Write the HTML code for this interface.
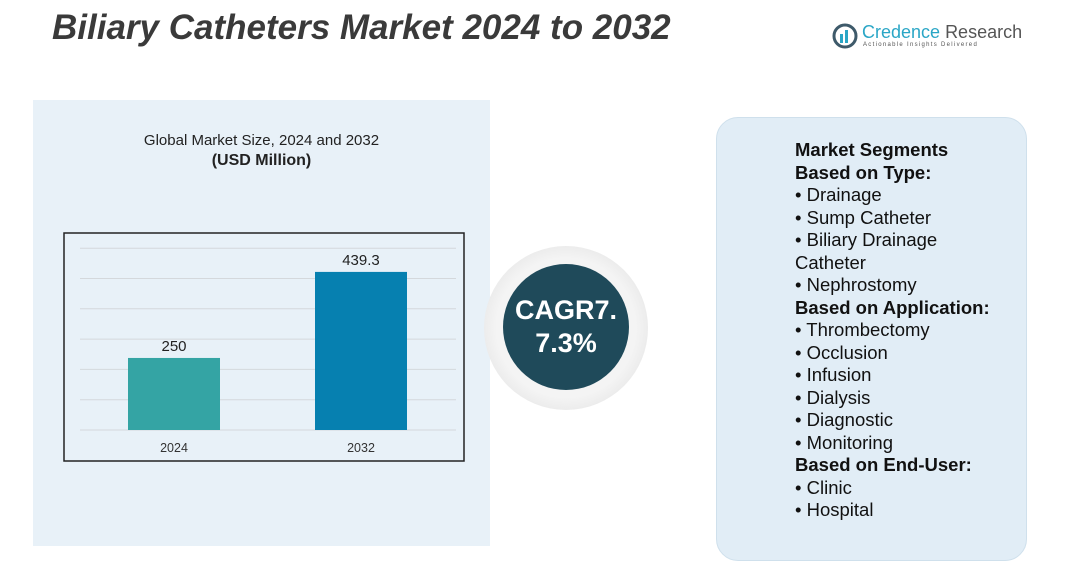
<!DOCTYPE html>
<html><head><meta charset="utf-8"><style>
body{margin:0;width:1067px;height:587px;background:#fff;font-family:"Liberation Sans",sans-serif;position:relative;overflow:hidden}
.abs{position:absolute}
</style></head><body>
<div class="abs" style="left:52px;top:8px;font-size:35px;font-weight:bold;font-style:italic;color:#3a3a3a">Biliary Catheters Market 2024 to 2032</div>
<div class="abs" style="left:832px;top:22px;width:200px;height:30px;white-space:nowrap">
 <svg width="26" height="28" style="position:absolute;left:0;top:0"><circle cx="13" cy="14" r="11" fill="none" stroke="#3e5a6a" stroke-width="3"/><rect x="8" y="12" width="3" height="9" fill="#2aa6c6"/><rect x="13" y="8" width="3" height="13" fill="#2aa6c6"/></svg>
 <div class="abs" style="left:30px;top:0;font-size:18px;color:#2aa6c6;white-space:nowrap">Credence <span style="color:#555">Research</span></div>
 <div class="abs" style="left:31px;top:20px;font-size:6px;letter-spacing:1.3px;color:#555;white-space:nowrap">Actionable Insights Delivered</div>
</div>
<div class="abs" style="left:33px;top:100px;width:457px;height:446px;background:#e8f1f8"></div>
<div class="abs" style="left:33px;top:132px;width:457px;text-align:center;font-size:15px;color:#222">Global Market Size, 2024 and 2032<br><b style="font-size:16px;line-height:24px">(USD Million)</b></div>
<svg class="abs" style="left:0;top:0" width="1067" height="587">
 <g id="g"></g>
</svg>
<div class="abs" style="left:484px;top:246px;width:164px;height:164px;border-radius:50%;background:radial-gradient(circle,#f4f4f4 60%,#d6d6d6 100%)"></div>
<div class="abs" style="left:503px;top:264px;width:126px;height:126px;border-radius:50%;background:#1f4a5a;color:#fff;font-size:27px;font-weight:bold;text-align:center;line-height:33px;padding-top:30px;box-sizing:border-box">CAGR7.<br>7.3%</div>
<div class="abs" style="left:716px;top:117px;width:311px;height:444px;border-radius:22px;background:#e1edf6;border:1px solid #cfe0ec;box-sizing:border-box"></div>
<div class="abs" style="left:795px;top:139px;font-size:18.5px;line-height:22.5px;color:#111">
<b>Market Segments</b><br><b>Based on Type:</b><br>• Drainage<br>• Sump Catheter<br>• Biliary Drainage<br>Catheter<br>• Nephrostomy<br><b>Based on Application:</b><br>• Thrombectomy<br>• Occlusion<br>• Infusion<br>• Dialysis<br>• Diagnostic<br>• Monitoring<br><b>Based on End-User:</b><br>• Clinic<br>• Hospital</div>
<script>
const categories=["2024","2032"];
const values=[250,439.3];
const labels=["250","439.3"];
const colors=["#34a4a4","#0680b0"];
const NS="http://www.w3.org/2000/svg";
const g=document.getElementById('g');
function y(v){return 430-(v-91.5)/2.2;}
function x(i){return 128+i*187;}
function mk(t,a){const e=document.createElementNS(NS,t);for(const k in a)e.setAttribute(k,a[k]);g.appendChild(e);return e;}
for(let k=0;k<7;k++){const l=mk('line',{x1:80,x2:456,y1:430-k*30.3,y2:430-k*30.3,stroke:'#d4d8dc','stroke-width':1});

}
const fr=mk('rect',{x:64,y:233,width:400,height:228,fill:'none',stroke:'#222','stroke-width':1.5});


categories.forEach((c,i)=>{
 const r=mk('rect',{x:x(i),y:y(values[i]),width:92,height:430-y(values[i]),fill:colors[i]});
 
 
 const t=mk('text',{x:x(i)+46,y:y(values[i])-7,'text-anchor':'middle','font-size':15,fill:'#222','font-family':'Liberation Sans'});t.textContent=labels[i];
 
 
 const xl=mk('text',{x:x(i)+46,y:452,'text-anchor':'middle','font-size':12.5,fill:'#333','font-family':'Liberation Sans'});xl.textContent=c;
 
 
});
</script>
</body></html>
